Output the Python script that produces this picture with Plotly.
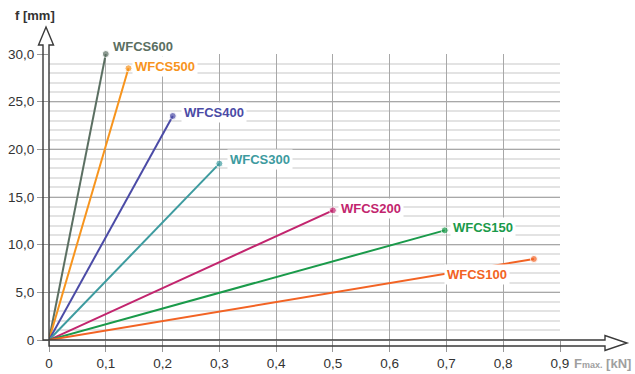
import plotly.graph_objects as go

# ---- data ----
series_names = ["WFCS600", "WFCS500", "WFCS400", "WFCS300", "WFCS200", "WFCS150", "WFCS100"]
fmax_kn = [0.10, 0.14, 0.218, 0.30, 0.50, 0.697, 0.854]
f_mm = [30.0, 28.5, 23.5, 18.5, 13.6, 11.5, 8.5]

x_ticks = [0, 0.1, 0.2, 0.3, 0.4, 0.5, 0.6, 0.7, 0.8, 0.9]
x_tick_labels = ["0", "0,1", "0,2", "0,3", "0,4", "0,5", "0,6", "0,7", "0,8", "0,9"]
y_ticks = [0, 5, 10, 15, 20, 25, 30]
y_tick_labels = ["0", "5,0", "10,0", "15,0", "20,0", "25,0", "30,0"]

# ---- styles ----
colors = ["#5b6f62", "#f7941d", "#4b4ba6", "#3d9b9f", "#c2256e", "#1a9a4a", "#f26324"]
# label offsets in pixels (xshift, yshift, xanchor)
label_offsets = [(4, 8, "left"), (4, 2, "left"), (8, 3, "left"), (8, 4, "left"),
                 (5, 2, "left"), (5, 3, "left"), (-24, -16, "right")]

FONT = "Liberation Sans, Arial, sans-serif"
W, H = 635, 374
ML, MR, MT, MB = 49, 75, 54, 34
PW, PH = W - ML - MR, H - MT - MB


def px(xp, yp):
    """convert page pixel to paper coords"""
    return (xp - ML) / PW, (H - MB - yp) / PH


fig = go.Figure()
for name, xe, ye, c in zip(series_names, fmax_kn, f_mm, colors):
    fig.add_trace(go.Scatter(
        x=[0, xe], y=[0, ye], mode="lines+markers", name=name,
        line=dict(color=c, width=2),
        marker=dict(color=c, size=[0, 7]),
        cliponaxis=False, showlegend=False, hoverinfo="skip"))

annotations = []
for name, xe, ye, c, (dx, dy, xa) in zip(series_names, fmax_kn, f_mm, colors, label_offsets):
    annotations.append(dict(
        x=xe, y=ye, xref="x", yref="y", text="<b>%s</b>" % name, showarrow=False,
        xanchor=xa, yanchor="middle", xshift=dx, yshift=dy,
        font=dict(family=FONT, size=13, color=c),
        bgcolor="white", borderpad=2))

# axis titles
ax_, ay_ = px(35, 16)
annotations.append(dict(x=ax_, y=ay_, xref="paper", yref="paper", showarrow=False,
                        text="<b>f [mm]</b>", xanchor="center", yanchor="middle",
                        font=dict(family=FONT, size=13, color="#333333")))
bx_, by_ = px(633, 363)
annotations.append(dict(x=bx_, y=by_, xref="paper", yref="paper", showarrow=False,
                        text="<b>F<span style='font-size:9px'>max.</span> [kN]</b>",
                        xanchor="right", yanchor="middle",
                        font=dict(family=FONT, size=13, color="#a0a0a0")))

# hollow arrow axes (decoration)
pts = [(46, 27), (53.5, 45), (49, 45), (49, 340), (605, 340), (605, 335.5), (627, 343),
       (605, 350.5), (605, 346), (49, 346), (49, 340), (43, 340), (43, 45), (38.5, 45), (46, 27)]
path = ""
for i, (xx, yy) in enumerate(pts):
    a, b = px(xx, yy)
    path += ("M" if i == 0 else "L") + "%.5f,%.5f " % (a, b)
shapes = [dict(type="path", path=path.strip() + " Z", xref="paper", yref="paper",
               line=dict(color="#3a3a3a", width=1.4), layer="above")]

fig.update_layout(
    width=W, height=H, margin=dict(l=ML, r=MR, t=MT, b=MB, autoexpand=False),
    paper_bgcolor="white", plot_bgcolor="white",
    font=dict(family=FONT, size=13.5, color="#333333"),
    annotations=annotations, shapes=shapes,
    xaxis=dict(range=[0, 0.9], tickvals=x_ticks, ticktext=x_tick_labels, automargin=False,
               showgrid=True, gridcolor="#a8a8a8", gridwidth=1.3,
               zeroline=False, showline=False,
               ticks="outside", ticklen=11, tickcolor="#999999", tickwidth=1,
               tickfont=dict(family=FONT, size=13.5, color="#333333")),
    yaxis=dict(range=[0, 30], tickvals=y_ticks, ticktext=y_tick_labels, automargin=False,
               showgrid=True, gridcolor="#a8a8a8", gridwidth=1.3,
               zeroline=False, showline=False,
               ticks="outside", ticklen=11, tickcolor="#999999", tickwidth=1,
               tickfont=dict(family=FONT, size=13.5, color="#333333"),
               minor=dict(dtick=1, tick0=0, showgrid=True, gridcolor="#e3e3e3", gridwidth=1.5)),
)

fig.write_html("out.html", config={"displayModeBar": False},
               post_script="document.body.style.margin='0px';document.body.style.overflow='hidden';")
